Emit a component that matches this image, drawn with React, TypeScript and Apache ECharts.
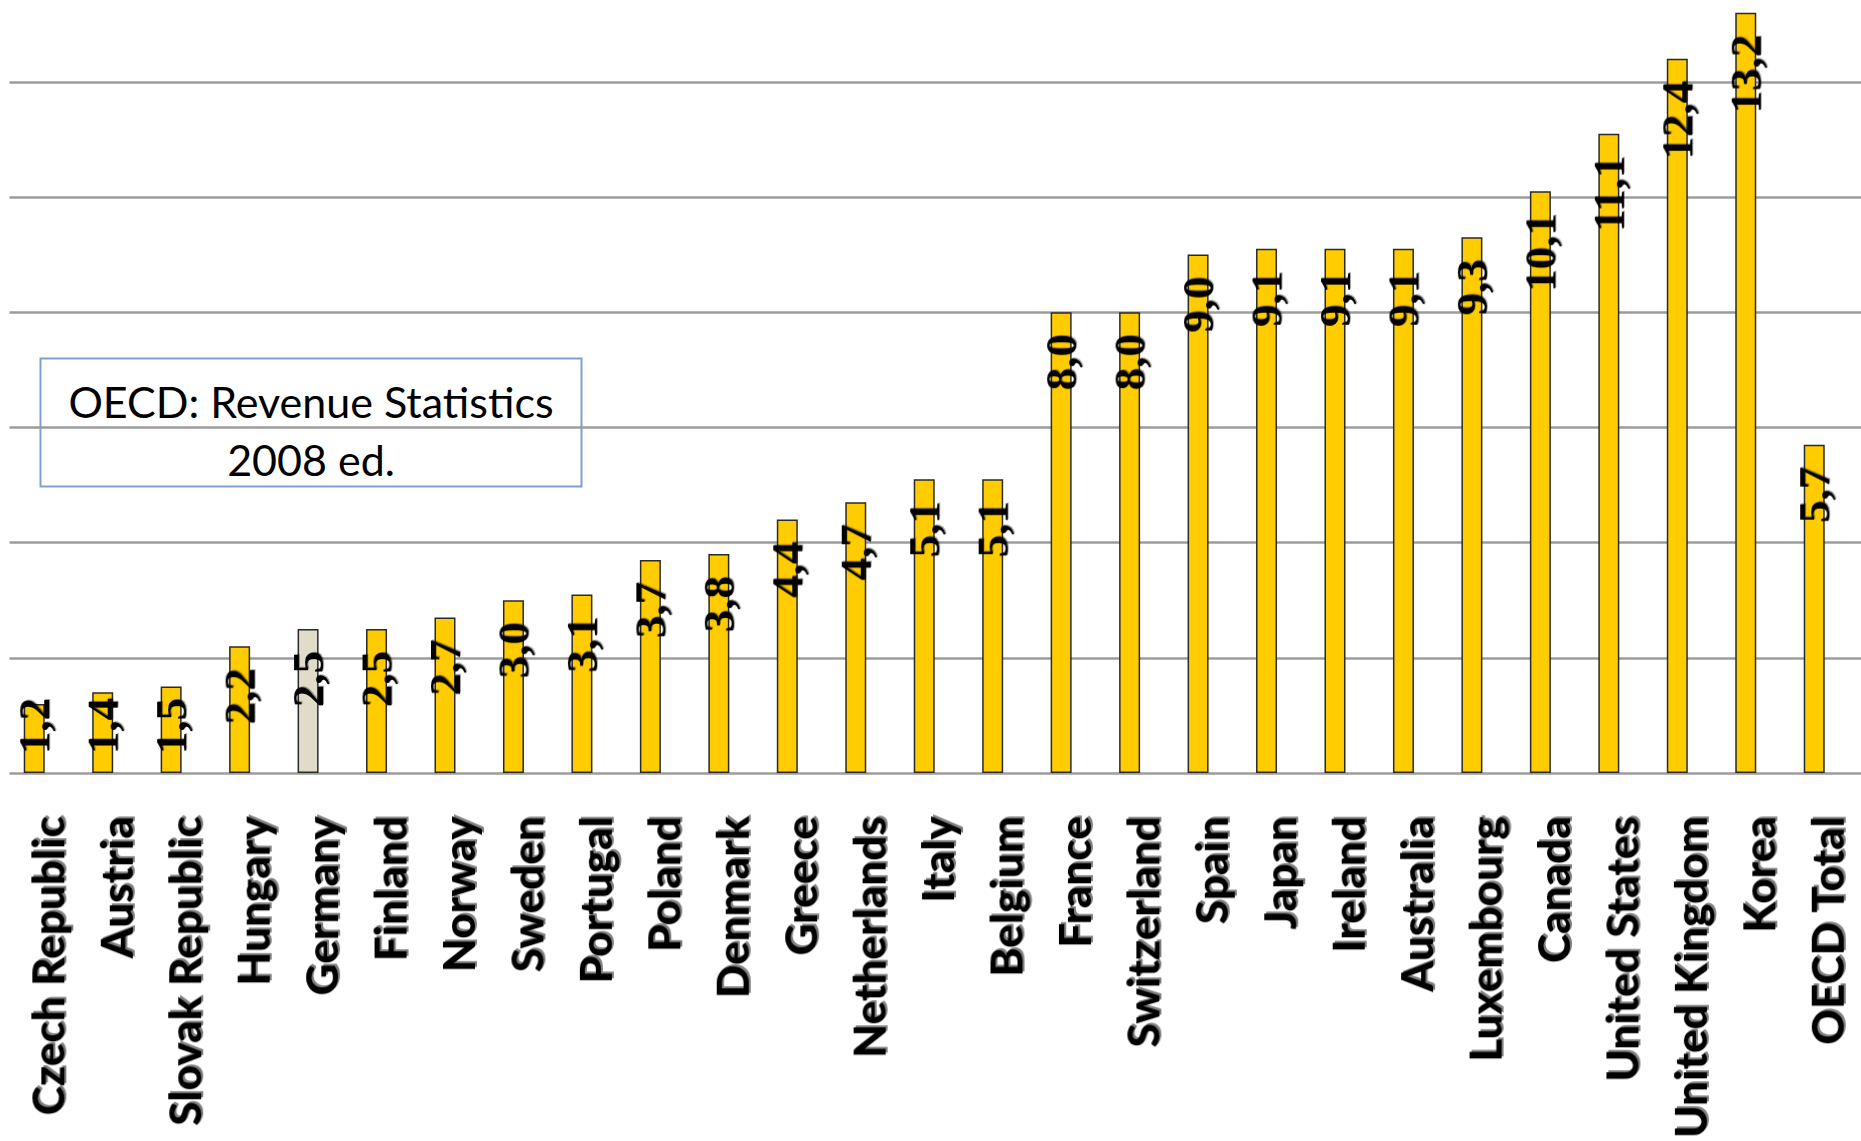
import React, { useEffect, useRef } from "react";
import * as echarts from "echarts";

const categories = [
  "Czech Republic", "Austria", "Slovak Republic", "Hungary", "Germany", "Finland",
  "Norway", "Sweden", "Portugal", "Poland", "Denmark", "Greece", "Netherlands",
  "Italy", "Belgium", "France", "Switzerland", "Spain", "Japan", "Ireland",
  "Australia", "Luxembourg", "Canada", "United States", "United Kingdom", "Korea",
  "OECD Total",
];
const values = [
  1.2, 1.4, 1.5, 2.2, 2.5, 2.5, 2.7, 3.0, 3.1, 3.7, 3.8, 4.4, 4.7, 5.1, 5.1,
  8.0, 8.0, 9.0, 9.1, 9.1, 9.1, 9.3, 10.1, 11.1, 12.4, 13.2, 5.7,
];
const highlighted = ["Germany"];
const boxLines = ["OECD: Revenue Statistics", "2008 ed."];

const Y_MAX = 14;
const PX_PER_UNIT = 57.6;
const SHIFT = 40; // div is moved up so the 14 line sits above the page

export default function App() {
  const ref = useRef<HTMLDivElement>(null);
  useEffect(() => {
    if (!ref.current) return;
    const chart = echarts.init(ref.current, undefined, { renderer: "svg" });
    const H = 1141 + SHIFT;
    const base = 773 + SHIFT;
    const top = base - Y_MAX * PX_PER_UNIT;
    const bottom = H - base;
    const catW = 68.9;
    const barLeft = 22.6 - catW / 2;
    const gridW = catW * categories.length;

    const data = values.map((v, i) => ({
      value: v,
      itemStyle: {
        color: highlighted.includes(categories[i]) ? "#E0DCC9" : "#FFCC00",
      },
      label: { distance: Math.min(22, v * PX_PER_UNIT - 75) },
    }));

    chart.setOption({
      animation: false,
      backgroundColor: "#ffffff",
      grid: [
        { left: 9.5, right: 0, top, bottom },
        { left: barLeft, width: gridW, top, bottom },
        { left: barLeft + 25, width: gridW, top, bottom },
      ],
      xAxis: [
        {
          gridIndex: 0,
          type: "category",
          data: categories,
          axisLine: { show: false },
          axisTick: { show: false },
          axisLabel: { show: false },
        },
        {
          gridIndex: 1,
          type: "category",
          data: categories,
          axisLine: { show: false },
          axisTick: { show: false },
          axisLabel: { show: false },
        },
        {
          gridIndex: 2,
          type: "category",
          data: categories,
          axisLine: { show: false },
          axisTick: { show: false },
          axisLabel: {
            show: true,
            interval: 0,
            rotate: 90,
            margin: 44,
            fontFamily: "Lato",
            fontWeight: 900,
            fontSize: 44,
            color: "#000000",
            textShadowColor: "rgba(0,0,0,0.5)",
            textShadowOffsetX: 2,
            textShadowOffsetY: 2,
            textShadowBlur: 1,
          },
        },
      ],
      yAxis: [
        {
          gridIndex: 0,
          type: "value",
          min: 0,
          max: Y_MAX,
          interval: 2,
          axisLine: { show: false },
          axisTick: { show: false },
          axisLabel: { show: false },
          splitLine: { show: true, lineStyle: { color: "#9c9c9c", width: 2.5 } },
        },
        {
          gridIndex: 1,
          type: "value",
          min: 0,
          max: Y_MAX,
          interval: 2,
          show: false,
        },
        {
          gridIndex: 2,
          type: "value",
          min: 0,
          max: Y_MAX,
          interval: 2,
          show: false,
        },
      ],
      series: [
        {
          type: "bar",
          xAxisIndex: 1,
          yAxisIndex: 1,
          data,
          barWidth: 21,
          itemStyle: { borderColor: "#2a2a2a", borderWidth: 1.5 },
          label: {
            show: true,
            position: "insideTop",
            rotate: 90,
            align: "right",
            verticalAlign: "middle",
            fontFamily: "Liberation Serif",
            fontWeight: "bold",
            fontSize: 45,
            color: "#000000",
            textShadowColor: "rgba(0,0,0,0.35)",
            textShadowOffsetX: 1,
            textShadowOffsetY: 1,
            textShadowBlur: 1,
            formatter: (p: any) => p.value.toFixed(1).replace(".", ","),
          },
          z: 3,
        },
      ],
      graphic: [
        {
          type: "group",
          z: 10,
          children: [
            {
              type: "rect",
              shape: { x: 40.5, y: 358.5 + SHIFT, width: 541, height: 128 },
              style: { fill: "#ffffff", stroke: "#7F9FCF", lineWidth: 2 },
            },
            ...boxLines.map((t, i) => ({
              type: "text",
              x: 311,
              y: 401 + SHIFT + i * 58,
              style: {
                text: t,
                fontFamily: "Lato",
                fontSize: 43,
                fill: "#000000",
                align: "center",
                verticalAlign: "middle",
              },
            })),
          ],
        },
      ],
    });
    return () => chart.dispose();
  }, []);
  return (
    <div
      ref={ref}
      style={{ position: "fixed", left: 0, top: -SHIFT, width: 1861, height: 1141 + SHIFT }}
    />
  );
}
